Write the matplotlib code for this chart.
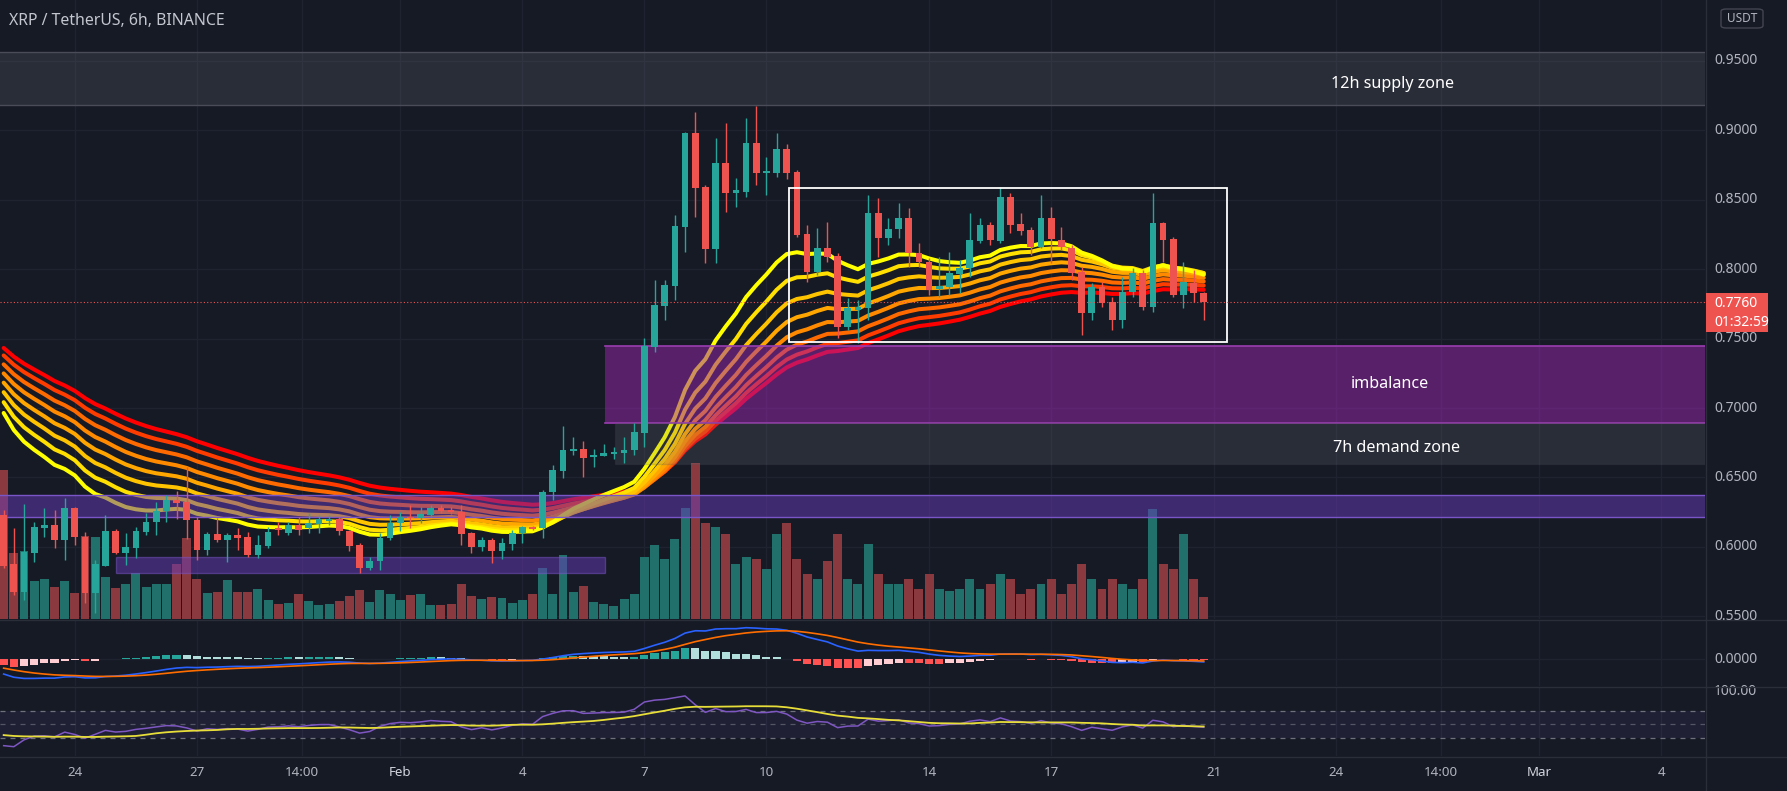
import numpy as np
import matplotlib.pyplot as plt
import matplotlib.transforms as mtransforms
from matplotlib.patches import Rectangle, FancyBboxPatch

plt.rcParams['font.family'] = ['Noto Sans', 'DejaVu Sans']

W, H = 1787, 791
BG = '#161a25'
GRID = '#1f2330'
SEP = '#2a2e39'
TXT = '#b2b5be'
UP = '#26a69a'
DOWN = '#ef5350'

# 6h candles, x in days counted from 21 Jan 2022 00:00; first bar is 22 Jan 06:00
first_day = 1.25
opens = [0.623, 0.5875, 0.5678, 0.5959, 0.6139, 0.6158, 0.605, 0.6283, 0.6074, 0.5671,
         0.5865, 0.6115, 0.5959, 0.5995, 0.611, 0.618, 0.6262, 0.6338, 0.6324, 0.6194,
         0.5978, 0.6094, 0.605, 0.6086, 0.6074, 0.5942, 0.6007, 0.614, 0.6103, 0.6158,
         0.6134, 0.6166, 0.619, 0.62, 0.6117, 0.6014, 0.5851, 0.5901, 0.6062, 0.617,
         0.6218, 0.6206, 0.623, 0.6278, 0.6266, 0.6254, 0.6098, 0.6002, 0.605, 0.5973,
         0.6022, 0.6099, 0.6142, 0.6134, 0.6394, 0.655, 0.6694, 0.6703, 0.665, 0.6655,
         0.667, 0.6674, 0.6698, 0.6823, 0.7442, 0.7734, 0.7878, 0.8305, 0.8981, 0.8593,
         0.8144, 0.8765, 0.8545, 0.8557, 0.8909, 0.8693, 0.8693, 0.8861, 0.87, 0.8252,
         0.7981, 0.8149, 0.8094, 0.7585, 0.7705, 0.7717, 0.8401, 0.8221, 0.8286, 0.8365,
         0.8113, 0.8053, 0.7854, 0.7873, 0.7964, 0.8005, 0.8204, 0.8317, 0.8204, 0.8516,
         0.8324, 0.8281, 0.8161, 0.8365, 0.8209, 0.815, 0.7981, 0.7681, 0.7873, 0.7765,
         0.7633, 0.7837, 0.797, 0.7729, 0.8329, 0.8214, 0.7813, 0.7902, 0.7825]
highs = [0.6266, 0.6137, 0.6307, 0.6182, 0.6278, 0.6266, 0.635, 0.629, 0.611, 0.5906,
         0.623, 0.613, 0.6099, 0.6146, 0.6247, 0.6326, 0.6374, 0.6405, 0.6578, 0.6218,
         0.611, 0.6206, 0.6098, 0.6134, 0.611, 0.6086, 0.6146, 0.6182, 0.6182, 0.6218,
         0.6242, 0.623, 0.623, 0.6218, 0.612, 0.6026, 0.593, 0.6099, 0.623, 0.6254,
         0.6302, 0.629, 0.6302, 0.6302, 0.629, 0.6302, 0.611, 0.607, 0.6062, 0.6062,
         0.6122, 0.6151, 0.615, 0.641, 0.659, 0.6871, 0.6793, 0.6765, 0.6703, 0.6741,
         0.672, 0.6794, 0.689, 0.7501, 0.7921, 0.7921, 0.8389, 0.8988, 0.9132, 0.8605,
         0.894, 0.9048, 0.8653, 0.9084, 0.9173, 0.8808, 0.8976, 0.89, 0.8712, 0.8317,
         0.8293, 0.8341, 0.8113, 0.7789, 0.7777, 0.8533, 0.8509, 0.8365, 0.8473, 0.8437,
         0.8185, 0.8077, 0.8089, 0.8125, 0.8065, 0.8401, 0.8365, 0.8341, 0.8593, 0.8545,
         0.8401, 0.8305, 0.8533, 0.8449, 0.8305, 0.8173, 0.8017, 0.7897, 0.7909, 0.7801,
         0.7945, 0.8005, 0.7993, 0.8545, 0.8341, 0.8233, 0.8053, 0.7993, 0.7837]
lows = [0.585, 0.5655, 0.5618, 0.5894, 0.6074, 0.599, 0.5906, 0.6014, 0.5595, 0.5523,
        0.586, 0.595, 0.587, 0.5918, 0.6086, 0.6086, 0.6182, 0.62, 0.6058, 0.5906,
        0.5942, 0.6038, 0.5894, 0.5978, 0.5926, 0.5918, 0.599, 0.6086, 0.6086, 0.6086,
        0.6099, 0.6099, 0.6158, 0.6086, 0.5973, 0.5811, 0.5834, 0.5834, 0.605, 0.6117,
        0.6134, 0.617, 0.6218, 0.6242, 0.6235, 0.6014, 0.5955, 0.5973, 0.5883, 0.5911,
        0.5978, 0.6031, 0.612, 0.6062, 0.6338, 0.6494, 0.6662, 0.6506, 0.6578, 0.6655,
        0.663, 0.6602, 0.6662, 0.6722, 0.7405, 0.7633, 0.7777, 0.8125, 0.8377, 0.8041,
        0.8041, 0.8413, 0.8449, 0.8521, 0.8605, 0.8533, 0.8664, 0.865, 0.8233, 0.7909,
        0.796, 0.8053, 0.7501, 0.7561, 0.7466, 0.7633, 0.8089, 0.8173, 0.8221, 0.8017,
        0.8017, 0.7813, 0.7801, 0.7813, 0.7825, 0.7945, 0.8185, 0.8173, 0.8185, 0.8257,
        0.8245, 0.8101, 0.8149, 0.8041, 0.8137, 0.7921, 0.7525, 0.7633, 0.7729, 0.7561,
        0.7573, 0.7801, 0.7705, 0.7693, 0.8053, 0.7801, 0.7717, 0.7765, 0.7633]
closes = [0.5865, 0.5674, 0.5962, 0.6146, 0.6158, 0.605, 0.6283, 0.607, 0.5671, 0.5878,
          0.6115, 0.5959, 0.5999, 0.6115, 0.618, 0.6262, 0.6338, 0.6318, 0.6194, 0.5978,
          0.6094, 0.605, 0.6086, 0.6062, 0.5942, 0.6014, 0.611, 0.6122, 0.6158, 0.6122,
          0.617, 0.62, 0.6203, 0.6117, 0.6007, 0.5851, 0.5899, 0.6067, 0.617, 0.6218,
          0.6206, 0.6235, 0.6283, 0.6262, 0.625, 0.6094, 0.5998, 0.605, 0.5973, 0.6026,
          0.6099, 0.6142, 0.613, 0.6398, 0.6554, 0.6698, 0.6706, 0.6638, 0.6655, 0.6678,
          0.668, 0.6698, 0.683, 0.7446, 0.7741, 0.7885, 0.831, 0.8981, 0.8581, 0.8144,
          0.8765, 0.855, 0.8569, 0.8909, 0.8693, 0.870, 0.8861, 0.8688, 0.8245, 0.7981,
          0.8149, 0.8089, 0.7585, 0.7717, 0.7729, 0.8401, 0.8221, 0.8286, 0.8365, 0.8113,
          0.8053, 0.7849, 0.7878, 0.797, 0.8005, 0.8209, 0.8317, 0.8209, 0.8516, 0.8317,
          0.8276, 0.8161, 0.8365, 0.8214, 0.8161, 0.7969, 0.7681, 0.7873, 0.7753, 0.7633,
          0.7837, 0.797, 0.7729, 0.8329, 0.8209, 0.7813, 0.7909, 0.7825, 0.776]
volume = [149, 66, 68, 38, 40, 32, 38, 26, 83, 82, 42, 31, 35, 46, 32, 35, 35, 55, 81, 40,
          26, 27, 39, 27, 27, 30, 19, 15, 16, 25, 18, 14, 15, 18, 23, 29, 17, 29, 25, 19,
          24, 25, 14, 14, 15, 35, 23, 20, 22, 21, 16, 19, 25, 51, 25, 64, 27, 33, 17, 15,
          13, 20, 25, 62, 74, 60, 80, 111, 156, 96, 92, 85, 55, 62, 60, 50, 85, 96, 60, 45,
          40, 58, 85, 40, 35, 75, 45, 35, 35, 40, 30, 45, 30, 28, 30, 40, 30, 35, 45, 40,
          25, 30, 35, 40, 25, 35, 55, 40, 30, 40, 35, 30, 40, 110, 55, 50, 85, 40, 22]

last_price = 0.7760
countdown = '01:32:59'

# EMA ribbon (fast -> slow) and the level of each line at the left edge
ribbon_lengths = [20, 25, 30, 35, 40, 45, 50, 55]
ribbon_start = [0.708, 0.714, 0.720, 0.726, 0.732, 0.738, 0.744, 0.749]
ribbon_colors = ['#ffff00', '#ffe000', '#ffc400', '#ffa600', '#ff8a00', '#ff6a00', '#ff3c00', '#ff0000']

macd_start = (0.693, 0.716, -0.015)   # ema12, ema26, signal before first bar
rsi_start = (0.003, 0.011, 35.0)      # avg gain, avg loss, earlier rsi level

# drawn zones: (start day, low, high)
supply_zone = (0.0, 0.918, 0.9561)
imbalance_zone = (16.03, 0.6894, 0.7446)
demand_zone = (16.28, 0.6595, 0.6894)
band_zone = (0.0, 0.6218, 0.6376)
small_zone = (4.01, 16.03, 0.5815, 0.593)
range_box = (20.545, 31.32, 0.7477, 0.858)

price_ticks = [0.55, 0.60, 0.65, 0.70, 0.75, 0.80, 0.85, 0.90, 0.95]
tick_days = [3, 6, 8.5833, 11, 14, 17, 20, 24, 27, 31, 34, 36.5833, 39, 42]
tick_labels = ['24', '27', '14:00', 'Feb', '4', '7', '10', '14', '17', '21', '24', '14:00', 'Mar', '4']


def ema(values, length, seed):
    a = 2.0 / (length + 1)
    out = []
    e = seed
    for v in values:
        e = e + a * (v - e)
        out.append(e)
    return np.array(out)


opens = np.array(opens)
highs = np.array(highs)
lows = np.array(lows)
closes = np.array(closes)
n = len(closes)
days = first_day + 0.25 * np.arange(n)
up = closes >= opens

# panel geometry in pixels
X_END = 1705
day0 = 1.16
day1 = day0 + X_END / 40.68


def add_panel(y0, y1, z=1):
    ax = fig.add_axes([0, 1 - y1 / H, X_END / W, (y1 - y0) / H], zorder=z)
    ax.set_axis_off()
    ax.set_xlim(day0, day1)
    return ax


def fig_line(xs, ys, **kw):
    fig.add_artist(plt.Line2D([x / W for x in xs], [1 - y / H for y in ys],
                              transform=fig.transFigure, **kw))


fig = plt.figure(figsize=(W / 100, H / 100), dpi=100, facecolor=BG)

p_lim = (0.5482, 0.99353)
ax_bg = add_panel(0, 619, 0)
ax_bg.set_ylim(*p_lim)
ax_vol = add_panel(0, 619, 1)
ax_vol.set_ylim(0, max(volume) * 3.97)
ax = add_panel(0, 619, 2)
ax.set_ylim(*p_lim)
ax_m = add_panel(620, 686)
ax_m.set_ylim(-0.054, 0.0795)
ax_r = add_panel(688, 756)
ax_r.set_ylim(2.3, 104.6)

# grid
for a in (ax_bg, ax_m, ax_r):
    for d in tick_days:
        a.axvline(d, color=GRID, lw=1, zorder=0)
for p in price_ticks:
    ax_bg.axhline(p, color=GRID, lw=1, zorder=0)
ax_m.axhline(0, color=GRID, lw=1, zorder=0)

# volume
vol_colors = np.where(up, '#22706b', '#8a3a3e')
ax_vol.bar(days, volume, width=0.22, color=vol_colors, zorder=1)

# ribbon
for length, start, col in reversed(list(zip(ribbon_lengths, ribbon_start, ribbon_colors))):
    ax.plot(days, ema(closes, length, start), color=col, lw=2.9,
            solid_capstyle='round', zorder=2)

# zones
ax.axhspan(supply_zone[1], supply_zone[2], facecolor='#787b86', alpha=0.2, zorder=3)
for v in supply_zone[1:]:
    ax.axhline(v, color='#4a4d58', lw=1, zorder=3)
ax.add_patch(Rectangle((imbalance_zone[0], imbalance_zone[1]), day1 - imbalance_zone[0],
                       imbalance_zone[2] - imbalance_zone[1], facecolor='#9c27b0', alpha=0.5,
                       edgecolor='none', zorder=3))
for v in imbalance_zone[1:]:
    ax.plot([imbalance_zone[0], day1], [v, v], color='#9a3db0', lw=1.2, zorder=3)
ax.add_patch(Rectangle((demand_zone[0], demand_zone[1]), day1 - demand_zone[0],
                       demand_zone[2] - demand_zone[1], facecolor='#787b86', alpha=0.2,
                       edgecolor='#4a4d58', lw=1, zorder=3))
ax.axhspan(band_zone[1], band_zone[2], facecolor='#673ab7', alpha=0.5, zorder=3)
for v in band_zone[1:]:
    ax.axhline(v, color='#7a55c8', lw=1, zorder=3)
ax.add_patch(Rectangle((small_zone[0], small_zone[2]), small_zone[1] - small_zone[0],
                       small_zone[3] - small_zone[2], facecolor='#673ab7', alpha=0.5,
                       edgecolor='#7a55c8', lw=1, zorder=3))

# candles
cols = np.where(up, UP, DOWN)
ax.vlines(days, lows, highs, color=cols, lw=1.0, zorder=4)
body_lo = np.minimum(opens, closes)
body_h = np.maximum(np.abs(closes - opens), 0.0009)
ax.bar(days, body_h, bottom=body_lo, width=0.165, color=cols, zorder=4)

# range box
ax.add_patch(Rectangle((range_box[0], range_box[2]), range_box[1] - range_box[0],
                       range_box[3] - range_box[2], facecolor='none', edgecolor='white',
                       lw=1.3, zorder=5))

# last price line
ax.axhline(last_price, color=DOWN, lw=0.8, ls=(0, (1, 2)), zorder=5)

# zone labels
zone_kw = dict(color='white', fontsize=11.6, fontweight='medium', ha='center', va='center', zorder=6)
ax.text(35.40, 0.9331, '12h supply zone', **zone_kw)
ax.text(35.33, 0.7173, 'imbalance', **zone_kw)
ax.text(35.48, 0.6712, '7h demand zone', **zone_kw)

# MACD
e12 = ema(closes, 12, macd_start[0])
e26 = ema(closes, 26, macd_start[1])
macd = e12 - e26
signal = ema(macd, 9, macd_start[2])
hist = macd - signal
prev_hist = np.concatenate([[macd_start[0] - macd_start[1] - macd_start[2]], hist[:-1]])
hcols = []
for h, ph in zip(hist, prev_hist):
    if h >= 0:
        hcols.append('#26a69a' if h > ph else '#b2dfdb')
    else:
        hcols.append('#ff5252' if h < ph else '#ffcdd2')
ax_m.bar(days, hist, width=0.2, color=hcols, zorder=2)
ax_m.plot(days, macd, color='#2962ff', lw=1.2, zorder=3)
ax_m.plot(days, signal, color='#ff6d00', lw=1.2, zorder=3)

# RSI
g, l = rsi_start[0], rsi_start[1]
prev = opens[0]
rsi = []
for c in closes:
    ch = c - prev
    g = (g * 13 + max(ch, 0)) / 14
    l = (l * 13 + max(-ch, 0)) / 14
    rsi.append(100 * g / (g + l))
    prev = c
rsi = np.array(rsi)
rsi_hist = np.concatenate([[rsi_start[2]] * 13, rsi])
rsi_ma = np.array([rsi_hist[i:i + 14].mean() for i in range(n)])
ax_r.axhspan(30, 70, facecolor='#7e57c2', alpha=0.1, zorder=1)
for lv, al in ((70, 0.9), (50, 0.6), (30, 0.9)):
    ax_r.axhline(lv, color='#787b86', lw=0.9, ls=(0, (4, 4)), alpha=al, zorder=1)
ax_r.plot(days, rsi, color='#7e57c2', lw=1.1, zorder=2)
ax_r.plot(days, rsi_ma, color='#e8de3a', lw=1.3, zorder=3)

# right scale labels
lab_x = 1714 / X_END
scale_kw = dict(color=TXT, fontsize=10, va='center', ha='left', clip_on=False)
tr_p = mtransforms.blended_transform_factory(ax.transAxes, ax.transData)
for p in price_ticks:
    ax.text(lab_x, p, f'{p:.4f}', transform=tr_p, **scale_kw)
ax_m.text(lab_x, 0, '0.0000',
          transform=mtransforms.blended_transform_factory(ax_m.transAxes, ax_m.transData), **scale_kw)
ax_r.text(lab_x, 100, '100.00',
          transform=mtransforms.blended_transform_factory(ax_r.transAxes, ax_r.transData), **scale_kw)

# last price tag
fig.add_artist(Rectangle((1706 / W, 1 - 332 / H), 62 / W, 39 / H, transform=fig.transFigure,
                         facecolor=DOWN, edgecolor='none', zorder=10))
fig.text(1714 / W, 1 - 304 / H, f'{last_price:.4f}', color='white', fontsize=10,
         fontweight='bold', va='center', ha='left', zorder=11)
fig.text(1714 / W, 1 - 322 / H, countdown, color='white', fontsize=10,
         va='center', ha='left', zorder=11)

# x labels
tr_x = mtransforms.blended_transform_factory(ax_r.transData, ax_r.transAxes)
for d, lab in zip(tick_days, tick_labels):
    bold = lab in ('Feb', 'Mar')
    ax_r.text(d, -0.25, lab, transform=tr_x, color='#d1d4dc' if bold else TXT,
              fontsize=9.6, fontweight='bold' if bold else 'normal',
              ha='center', va='center', clip_on=False)

# panel separators
fig_line([0, W], [619.5, 619.5], color=SEP, lw=1)
fig_line([0, W], [687, 687], color=SEP, lw=1)
fig_line([0, W], [756.5, 756.5], color=SEP, lw=1)
fig_line([X_END + 0.5, X_END + 0.5], [0, H], color=SEP, lw=1)

# title and currency badge
fig.text(9 / W, 1 - 21 / H, 'XRP / TetherUS, 6h, BINANCE', color='#c3c6ce', fontsize=11.4,
         fontweight='medium', va='center', ha='left')
fig.add_artist(FancyBboxPatch((1721 / W, 1 - 28 / H), 42 / W, 19 / H,
                              boxstyle='round,pad=0,rounding_size=0.003',
                              transform=fig.transFigure, facecolor=BG, edgecolor='#434651', lw=1))
fig.text(1742 / W, 1 - 18 / H, 'USDT', color=TXT, fontsize=8.5, va='center', ha='center')

fig.savefig('out.png', dpi=100, facecolor=BG)
